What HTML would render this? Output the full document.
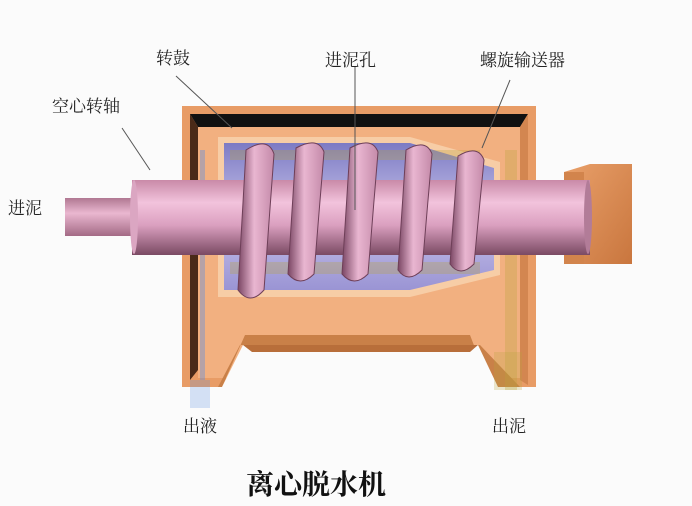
<!DOCTYPE html>
<html><head><meta charset="utf-8"><style>
html,body{margin:0;padding:0;background:#fbfbfb;}
svg{display:block}
text{font-family:"Liberation Serif","Noto Serif CJK SC",serif;fill:#222;}
</style></head><body>
<svg width="692" height="506" viewBox="0 0 692 506" xmlns="http://www.w3.org/2000/svg">
<defs>
<linearGradient id="shaft" x1="0" y1="0" x2="0" y2="1">
<stop offset="0" stop-color="#c98aa8"/><stop offset="0.3" stop-color="#f2c3dc"/><stop offset="0.6" stop-color="#dba0c0"/><stop offset="1" stop-color="#7a4a63"/></linearGradient>
<linearGradient id="pipe" x1="0" y1="0" x2="0" y2="1">
<stop offset="0" stop-color="#b07892"/><stop offset="0.4" stop-color="#eab7d0"/><stop offset="1" stop-color="#a36a85"/></linearGradient>
<linearGradient id="drum" x1="0" y1="0" x2="0" y2="1">
<stop offset="0" stop-color="#7c7ac4"/><stop offset="0.5" stop-color="#c9c4ea"/><stop offset="1" stop-color="#9a94d4"/></linearGradient>
<linearGradient id="ring" x1="0" y1="0" x2="1" y2="0">
<stop offset="0" stop-color="#7a4663"/><stop offset="0.45" stop-color="#e9b6d1"/><stop offset="1" stop-color="#c48aa9"/></linearGradient>
<linearGradient id="box" x1="0" y1="0" x2="1" y2="1">
<stop offset="0" stop-color="#e9a06a"/><stop offset="1" stop-color="#c9763e"/></linearGradient>
</defs>
<rect x="182" y="106" width="354" height="281" fill="#e89c66"/>
<polygon points="190,114 528,114 520,127 198,127" fill="#111"/>
<polygon points="190,114 198,127 198,370 190,380" fill="#4a2a18"/>
<polygon points="528,114 520,127 520,380 528,385" fill="#d38650"/>
<rect x="198" y="127" width="322" height="251" fill="#f2b080"/>
<polygon points="218,137 410,137 500,162 500,275 410,297 218,297" fill="#f7cda6"/>
<polygon points="224,143 410,143 494,168 494,270 410,290 224,290" fill="url(#drum)"/>
<polygon points="245,335 470,335 490,387 520,387 480,345 240,345 218,387 222,387" fill="#c98048"/>
<polygon points="243,345 478,345 498,387 222,387" fill="#fbfbfb"/>
<polygon points="243,345 478,345 470,352 252,352" fill="#b86e3a"/>
<g fill="#5a8fe0">
<rect x="200" y="150" width="5" height="230" opacity="0.4"/>
<rect x="190" y="380" width="20" height="28" opacity="0.25"/>
<rect x="70" y="205" width="55" height="8" opacity="0.45"/>
</g>
<g fill="#b8a33a">
<rect x="505" y="150" width="12" height="240" opacity="0.3"/>
<rect x="494" y="352" width="28" height="38" opacity="0.25"/>
<rect x="230" y="150" width="250" height="10" opacity="0.3"/>
<rect x="230" y="262" width="250" height="12" opacity="0.3"/>
</g>
<polygon points="564,172 590,164 632,164 632,264 564,264" fill="url(#box)"/>
<rect x="564" y="172" width="20" height="92" fill="#d2844c"/>
<rect x="65" y="198" width="70" height="38" fill="url(#pipe)"/>
<rect x="132" y="180" width="458" height="75" fill="url(#shaft)"/>
<ellipse cx="134" cy="217" rx="4" ry="37" fill="#dba6c2"/>
<ellipse cx="588" cy="217" rx="4" ry="37" fill="#b27c98"/>
<g fill="url(#ring)" stroke="#6e3f58" stroke-width="1">
<path d="M246,150 q22,-14 28,4 l-10,136 q-14,16 -26,0 z"/>
<path d="M296,148 q22,-12 28,4 l-10,122 q-14,14 -26,0 z"/>
<path d="M350,148 q22,-12 28,4 l-10,122 q-14,14 -26,0 z"/>
<path d="M406,150 q20,-12 26,4 l-10,116 q-14,14 -24,0 z"/>
<path d="M458,156 q20,-12 26,4 l-10,104 q-14,14 -24,0 z"/>
</g>
<g stroke="#555" stroke-width="1" fill="none">
<line x1="176" y1="76" x2="232" y2="128"/>
<line x1="122" y1="128" x2="150" y2="170"/>
<line x1="355" y1="66" x2="355" y2="210"/>
<line x1="510" y1="80" x2="482" y2="148"/>
</g>
<g font-size="17">
<text x="156" y="64">转鼓</text>
<text x="325" y="66">进泥孔</text>
<text x="480" y="66">螺旋输送器</text>
<text x="52" y="112">空心转轴</text>
<text x="8" y="214">进泥</text>
<text x="183" y="432">出液</text>
<text x="492" y="432">出泥</text>
</g>
<text x="246" y="494" font-size="28" font-weight="bold" style="fill:#111">离心脱水机</text>
</svg>
</body></html>
